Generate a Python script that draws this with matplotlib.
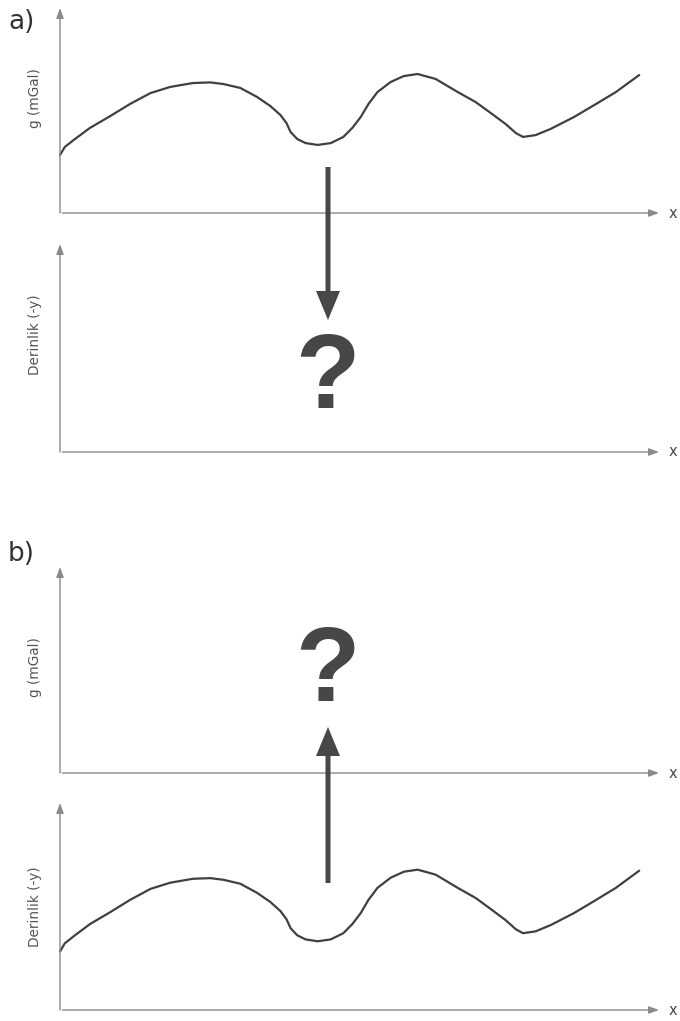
import matplotlib
matplotlib.use("Agg")
import matplotlib.pyplot as plt
from matplotlib.patches import FancyArrow

# ---- data ----
# distance along profile (arbitrary units, 0..100 = length of x axis)
x_profile = [0, 0.8, 2.5, 5.0, 8.4, 11.7, 15.1, 18.4, 22.2, 25.1, 27.3, 30.1, 32.9,
             35.1, 36.8, 37.8, 38.5, 39.6, 41.0, 43.0, 45.2, 47.3, 48.8, 50.2, 51.5,
             53.0, 55.2, 57.4, 59.7, 62.7, 66.4, 69.4, 71.9, 74.4, 76.1, 77.3, 79.4,
             81.9, 85.8, 89.5, 92.8, 96.7]
# curve height (arbitrary units, 0..100 = length of y axis)
y_profile = [28.3, 32.2, 36.1, 41.5, 47.3, 53.2, 58.5, 61.5, 63.4, 63.7, 62.9, 61.0, 56.6,
             52.2, 47.8, 43.9, 39.5, 36.1, 34.1, 33.2, 34.1, 37.1, 41.5, 46.8, 53.2,
             59.0, 63.9, 66.8, 67.8, 65.4, 59.0, 54.1, 48.8, 43.4, 39.0, 37.1, 38.0,
             41.0, 46.8, 53.2, 59.0, 67.3]

panel_labels = ["a)", "b)"]
ylabels = ["g (mGal)", "Derinlik (-y)", "g (mGal)", "Derinlik (-y)"]
xlabel = "x"
has_curve = [True, False, False, True]

W, H = 680, 1021
fig = plt.figure(figsize=(W / 100, H / 100), dpi=100)

AX_COL = "#8a8a8a"
CURVE_COL = "#404040"
DARK = "#474747"
TXT = "#555555"

# panel geometry in pixels: (top of y axis arrow, x axis level)
panels = [(8, 213), (244, 452), (567, 773), (803, 1010)]
ylabel_pos = [0.56, 0.5625, 0.515, 0.50]
x0_px, x1_px = 60, 659

for i, (top, base) in enumerate(panels):
    ax = fig.add_axes([x0_px / W, 1 - base / H, (x1_px - x0_px) / W, (base - top) / H])
    ax.set_xlim(0, 100)
    ax.set_ylim(0, 100)
    ax.axis("off")
    # axes arrows
    ax.annotate("", xy=(0, 1), xytext=(0, 0), xycoords="axes fraction",
                arrowprops=dict(arrowstyle="-|>,head_length=0.6,head_width=0.22",
                                color=AX_COL, lw=1.0, shrinkA=0, shrinkB=0), annotation_clip=False)
    ax.annotate("", xy=(1, 0), xytext=(0.004, 0), xycoords="axes fraction",
                arrowprops=dict(arrowstyle="-|>,head_length=0.6,head_width=0.22",
                                color=AX_COL, lw=1.0, shrinkA=0, shrinkB=0), annotation_clip=False)
    if has_curve[i]:
        ax.plot(x_profile, y_profile, color=CURVE_COL, lw=1.6, solid_capstyle="round",
                solid_joinstyle="round", clip_on=False)
    ax.text(-25 / (x1_px - x0_px), ylabel_pos[i], ylabels[i], transform=ax.transAxes,
            rotation=90, ha="center", va="center", fontsize=9.8, color=TXT,
            family="DejaVu Sans")
    ax.text(1 + 10 / (x1_px - x0_px), 0, xlabel, transform=ax.transAxes,
            ha="left", va="center", fontsize=10.5, color=DARK)

# overlay in pixel coordinates for annotations
ov = fig.add_axes([0, 0, 1, 1])
ov.set_xlim(0, W)
ov.set_ylim(H, 0)
ov.axis("off")
ov.patch.set_alpha(0)

ov.text(8, 22, panel_labels[0], fontsize=19, color="#333333", ha="left", va="center")
ov.text(8, 554, panel_labels[1], fontsize=19, color="#333333", ha="left", va="center")

akw = dict(width=5, head_width=24, head_length=29, length_includes_head=True,
           color=DARK, lw=0)
ov.add_patch(FancyArrow(328, 167, 0, 320 - 167, **akw))
ov.add_patch(FancyArrow(328, 883, 0, 727 - 883, **akw))

qkw = dict(fontsize=76, color=DARK, ha="center", va="center", family="Liberation Sans",
           fontweight="bold")
ov.text(327, 380, "?", **qkw)
ov.text(327, 673, "?", **qkw)

fig.savefig("out.png", dpi=100, facecolor="white")
